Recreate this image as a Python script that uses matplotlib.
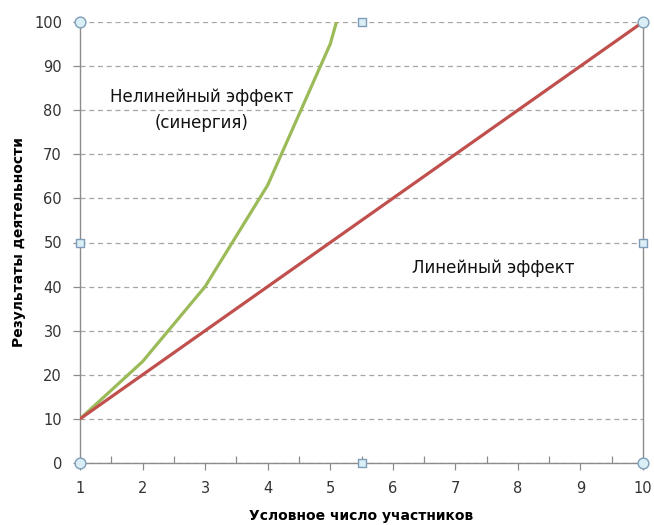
import matplotlib
matplotlib.use("Agg")
import matplotlib.pyplot as plt

# participants count (x) and results for both effects
x_linear = [1, 10]
y_linear = [10, 100]

x_synergy = [1, 2, 3, 4, 5, 5.1]
y_synergy = [10, 23, 40, 63, 95, 100]

x_ticks = list(range(1, 11))
y_ticks = list(range(0, 101, 10))

GREEN = "#9BBB59"
RED = "#C0504D"
AXIS = "#8C8C8C"
GRID = "#A6A6A6"

plt.rcParams["font.family"] = ["DejaVu Sans"]

fig = plt.figure(figsize=(6.54, 5.25), dpi=100)
ax = fig.add_axes([80 / 654, 62 / 525, 563 / 654, 441 / 525])

ax.plot(x_synergy, y_synergy, color=GREEN, lw=2.3, solid_capstyle="butt", zorder=3)
ax.plot(x_linear, y_linear, color=RED, lw=2.3, solid_capstyle="butt", zorder=3)

ax.set_xlim(1, 10)
ax.set_ylim(0, 100)
ax.set_xticks(x_ticks)
ax.set_yticks(y_ticks)
ax.set_xticks([v + 0.5 for v in x_ticks[:-1]], minor=True)

ax.grid(axis="y", color=GRID, ls=(0, (4, 3)), lw=0.9, zorder=1)
ax.tick_params(axis="both", which="major", colors=AXIS, labelcolor="#333333",
               labelsize=10.5, length=5, width=0.9)
ax.tick_params(axis="x", which="minor", direction="in", colors=AXIS, length=5, width=0.9)
ax.tick_params(axis="x", which="major", pad=8)
ax.tick_params(axis="y", which="major", pad=8)

for side in ("left", "bottom", "right"):
    ax.spines[side].set_color(AXIS)
    ax.spines[side].set_linewidth(1.0)
ax.spines["top"].set_visible(False)

ax.set_xlabel("Условное число участников", fontsize=10, fontweight="bold", labelpad=9)
ax.set_ylabel("Результаты деятельности", fontsize=10, fontweight="bold", labelpad=6)

ax.text(2.95, 80, "Нелинейный эффект\n(синергия)", ha="center", va="center",
        fontsize=12, color="#111111", linespacing=1.55)
ax.text(7.6, 44.3, "Линейный эффект", ha="center", va="center",
        fontsize=12, color="#111111")

# selection handles on the plot area frame
corners_x = [1, 10, 1, 10]
corners_y = [0, 0, 100, 100]
mids_x = [5.5, 5.5, 1, 10]
mids_y = [0, 100, 50, 50]
ax.scatter(corners_x, corners_y, s=60, marker="o", facecolor="#D9EEF5",
           edgecolor="#7F9DB9", linewidth=1.0, clip_on=False, zorder=5)
ax.scatter(mids_x, mids_y, s=40, marker="s", facecolor="#D9EEF5",
           edgecolor="#7F9DB9", linewidth=1.0, clip_on=False, zorder=5)

fig.savefig("out.png", dpi=100)
